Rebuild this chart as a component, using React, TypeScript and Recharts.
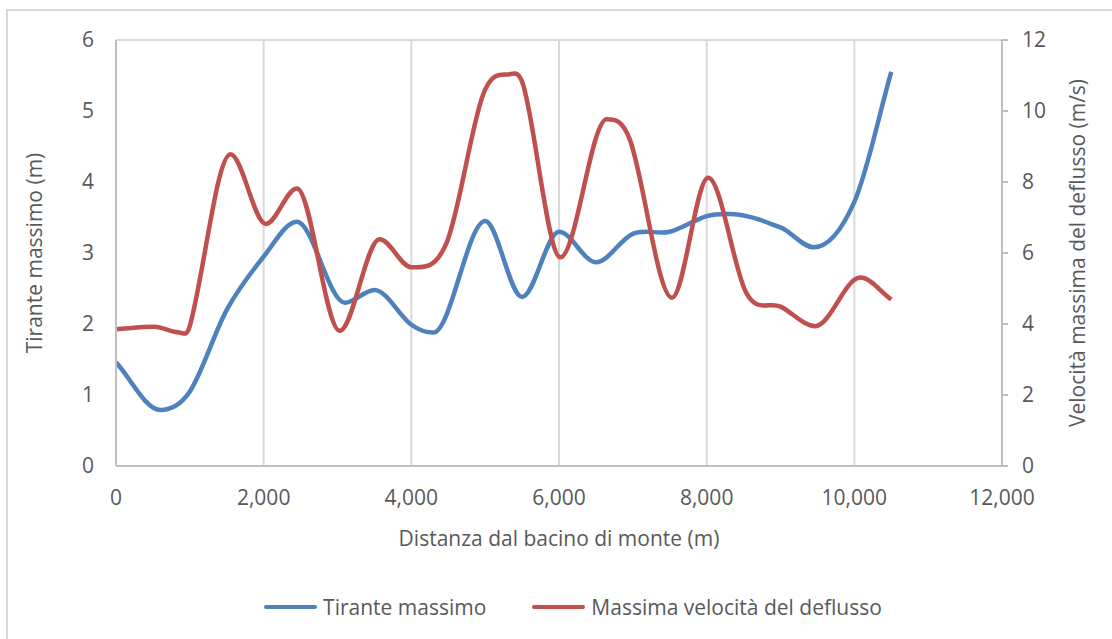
import { CartesianGrid, Legend, Line, LineChart, XAxis, YAxis } from 'recharts'

// Tirante massimo lungo l'asta (m)
const tiranteX = [0, 600, 1000, 1500, 2000, 2450, 3100, 3500, 4000, 4300, 5000, 5500, 6000, 6500, 7000, 7500, 8000, 8300, 9000, 9450, 10000, 10500]
const tiranteY = [1.46, 0.79, 1.05, 2.2, 2.95, 3.44, 2.3, 2.48, 1.99, 1.88, 3.45, 2.38, 3.3, 2.87, 3.27, 3.3, 3.52, 3.55, 3.36, 3.08, 3.72, 5.55]

// Massima velocità del deflusso (m/s)
const velocitaX = [0, 520, 860, 1000, 1550, 2030, 2450, 3030, 3570, 4000, 4480, 4970, 5310, 5520, 6020, 6646, 6962, 7530, 8020, 8540, 9000, 9470, 10080, 10500]
const velocitaY = [3.85, 3.92, 3.76, 3.95, 8.78, 6.82, 7.82, 3.81, 6.39, 5.6, 6.3, 10.45, 11.03, 10.7, 5.88, 9.77, 9.18, 4.74, 8.12, 4.86, 4.49, 3.94, 5.31, 4.69]

const xTicks = [0, 2000, 4000, 6000, 8000, 10000, 12000]
const leftTicks = [0, 1, 2, 3, 4, 5, 6]
const rightTicks = [0, 2, 4, 6, 8, 10, 12]
const legendOrder = ['Tirante massimo', 'Massima velocità del deflusso']

const tiranteData = tiranteX.map((x, i) => ({ x, tirante: tiranteY[i] }))
const velocitaData = velocitaX.map((x, i) => ({ x, velocita: velocitaY[i] }))

const FONT = '"Open Sans", sans-serif'
const TEXT = '#595959'
const BLUE = '#4F81BD'
const RED = '#C0504D'

// smoothed line: cubic Hermite through every point, tangent from the two
// neighbours (flat at peaks and troughs), so uneven x spacing does not loop
const smoothCurve = (context: any) => {
  let pts: number[][] = []
  return {
    areaStart() {},
    areaEnd() {},
    lineStart() {
      pts = []
    },
    point(x: number, y: number) {
      pts.push([+x, +y])
    },
    lineEnd() {
      const n = pts.length
      if (!n) return
      const slope = (i: number) => {
        const a = pts[Math.max(i - 1, 0)]
        const c = pts[i]
        const b = pts[Math.min(i + 1, n - 1)]
        if (i > 0 && i < n - 1 && (c[1] - a[1]) * (b[1] - c[1]) <= 0) return 0
        return b[0] === a[0] ? 0 : (b[1] - a[1]) / (b[0] - a[0])
      }
      context.moveTo(pts[0][0], pts[0][1])
      for (let i = 0; i < n - 1; i++) {
        const p1 = pts[i]
        const p2 = pts[i + 1]
        const h = (p2[0] - p1[0]) / 3
        context.bezierCurveTo(p1[0] + h, p1[1] + slope(i) * h, p2[0] - h, p2[1] - slope(i + 1) * h, p2[0], p2[1])
      }
    }
  }
}

const formatThousands = (v: number) => v.toLocaleString('en-US')

const ChartLegend = ({ payload }: any) => {
  const items = [...(payload || [])].sort((a: any, b: any) => legendOrder.indexOf(a.value) - legendOrder.indexOf(b.value))
  return (
    <div style={{ display: 'flex', justifyContent: 'center', alignItems: 'center', paddingLeft: 28 }}>
      {items.map((item: any, i: number) => (
        <div key={i} style={{ display: 'flex', alignItems: 'center', marginLeft: i ? 46 : 0 }}>
          <span style={{ display: 'inline-block', width: 53, height: 4, background: item.color, borderRadius: 2, marginRight: 6 }} />
          <span style={{ fontFamily: FONT, fontSize: 21, color: TEXT }}>{item.value}</span>
        </div>
      ))}
    </div>
  )
}

export default function App() {
  const tick = { fontFamily: FONT, fontSize: 21, fill: TEXT }
  return (
    <div style={{ position: 'absolute', left: 0, top: 0, width: 1112, height: 639, background: '#fff', overflow: 'hidden' }}>
      <div
        style={{
          position: 'absolute',
          left: 6,
          top: 9,
          width: 1200,
          height: 700,
          borderLeft: '2px solid #d9d9d9',
          borderTop: '2px solid #d9d9d9'
        }}
      />
      <LineChart width={1112} height={639} margin={{ top: 40, right: 10, bottom: 6, left: 16 }}>
        <CartesianGrid stroke="#d9d9d9" strokeWidth={2} />
        <XAxis
          type="number"
          dataKey="x"
          domain={[0, 12000]}
          ticks={xTicks}
          allowDataOverflow
          tickFormatter={formatThousands}
          tick={tick}
          tickSize={0}
          tickMargin={24}
          height={127}
          stroke="#bfbfbf"
          strokeWidth={2}
          label={{
            value: 'Distanza dal bacino di monte (m)',
            position: 'insideTop',
            offset: 65,
            style: { fontFamily: FONT, fontSize: 21, fill: TEXT }
          }}
        />
        <YAxis
          yAxisId="left"
          domain={[0, 6]}
          ticks={leftTicks}
          width={100}
          tick={tick}
          tickSize={0}
          tickMargin={22}
          stroke="#bfbfbf"
          strokeWidth={2}
          label={{
            value: 'Tirante massimo (m)',
            angle: -90,
            position: 'center',
            dx: -31,
            style: { fontFamily: FONT, fontSize: 21, fill: TEXT, textAnchor: 'middle' }
          }}
        />
        <YAxis
          yAxisId="right"
          orientation="right"
          domain={[0, 12]}
          ticks={rightTicks}
          width={100}
          tick={tick}
          tickSize={6}
          tickMargin={14}
          stroke="#bfbfbf"
          strokeWidth={2}
          label={{
            value: 'Velocità massima del deflusso (m/s)',
            angle: -90,
            position: 'center',
            dx: 26,
            style: { fontFamily: FONT, fontSize: 21, fill: TEXT, textAnchor: 'middle' }
          }}
        />
        <Legend verticalAlign="bottom" height={40} content={<ChartLegend />} />
        <Line
          yAxisId="left"
          data={tiranteData}
          dataKey="tirante"
          name="Tirante massimo"
          type={smoothCurve as any}
          stroke={BLUE}
          strokeWidth={4.5}
          dot={false}
          activeDot={false}
          isAnimationActive={false}
        />
        <Line
          yAxisId="right"
          data={velocitaData}
          dataKey="velocita"
          name="Massima velocità del deflusso"
          type={smoothCurve as any}
          stroke={RED}
          strokeWidth={4.5}
          dot={false}
          activeDot={false}
          isAnimationActive={false}
        />
      </LineChart>
    </div>
  )
}
